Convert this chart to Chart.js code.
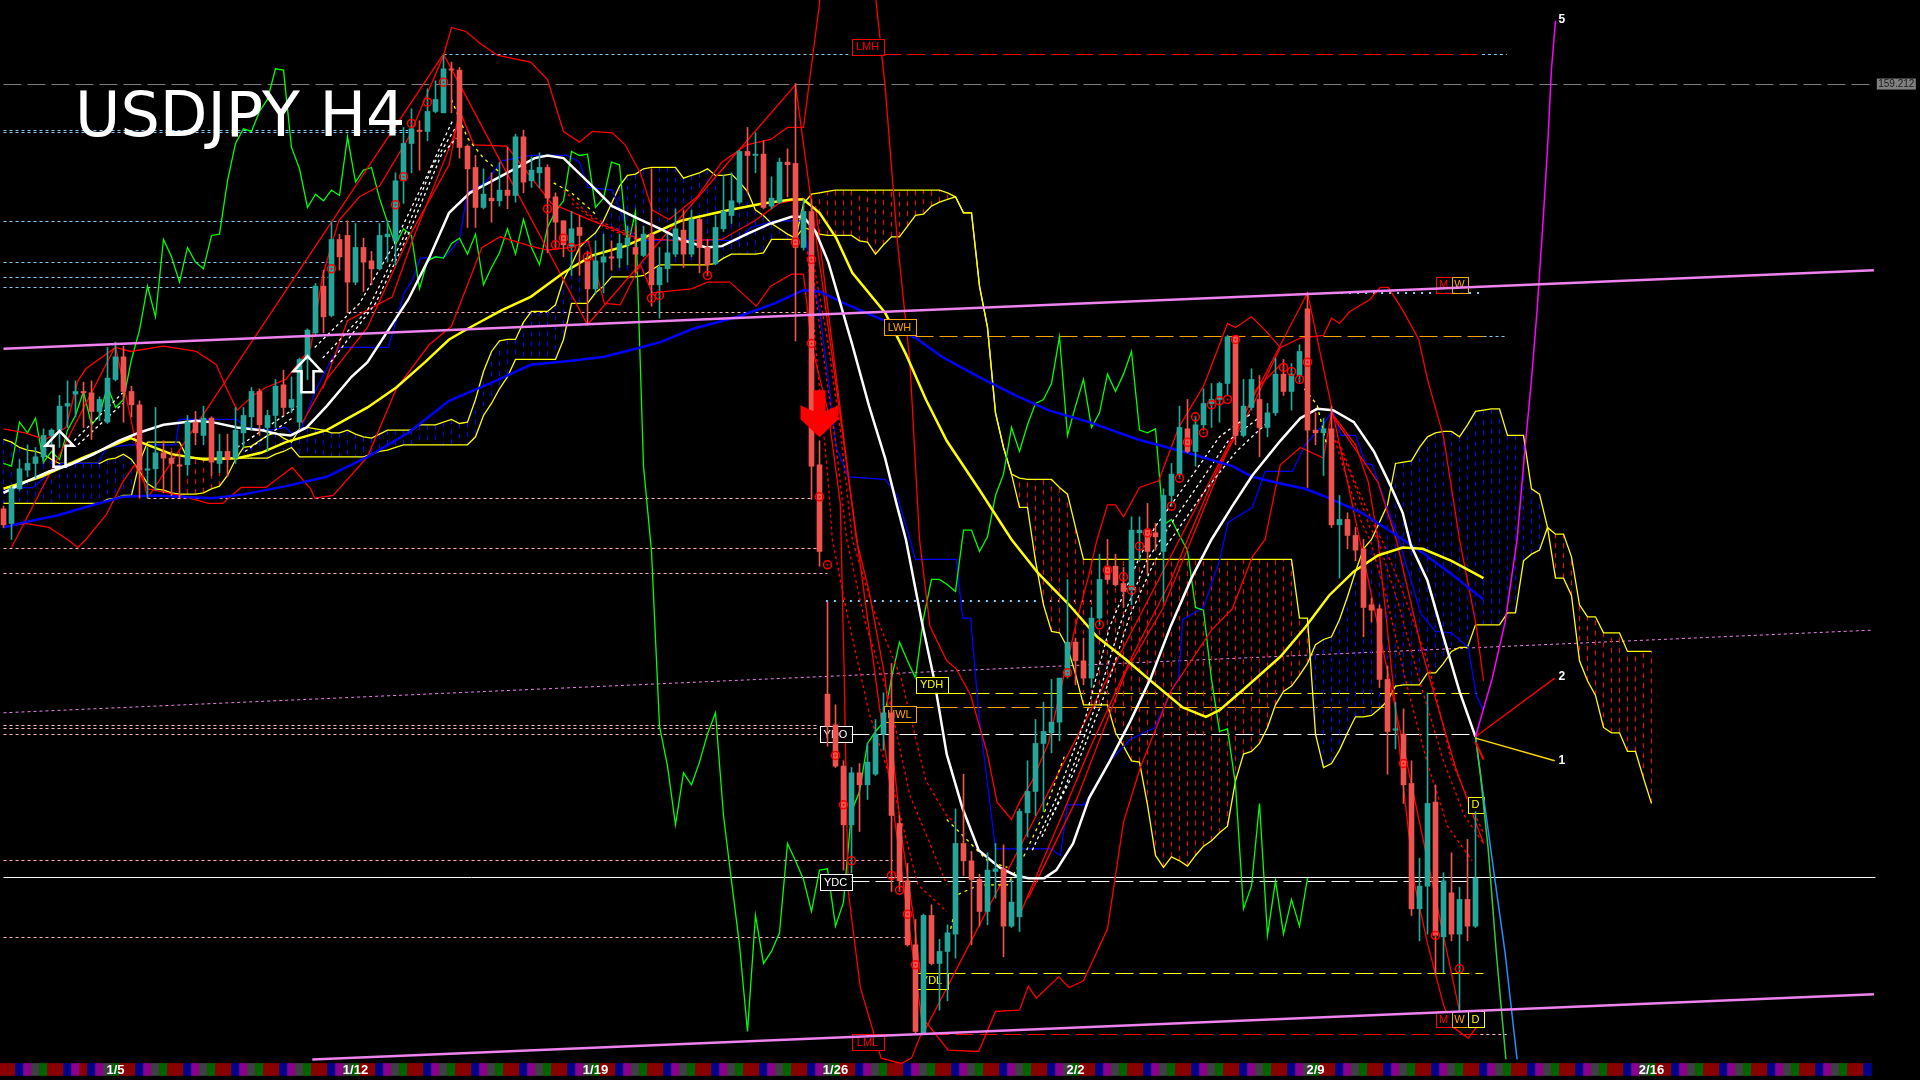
<!DOCTYPE html>
<html>
<head>
<meta charset="utf-8">
<title>USDJPY H4</title>
<script src="https://cdn.jsdelivr.net/npm/chart.js@4/dist/chart.umd.min.js"></script>
<style>
  html, body { margin: 0; padding: 0; background: #000; }
  #wrap { width: 1920px; height: 1080px; }
</style>
</head>
<body>
<div id="wrap"><canvas id="chart" width="1920" height="1080"></canvas></div>
<script>
// candles, one value per H4 bar
const opens = [156.03,155.92,156.18,156.32,156.37,156.42,156.58,156.62,156.80,156.89,156.91,156.90,156.76,156.68,157.00,157.17,156.91,156.81,156.32,156.33,156.45,156.41,156.36,156.36,156.68,156.58,156.71,156.37,156.46,156.41,156.60,156.72,156.91,156.64,156.73,156.96,156.79,156.68,157.15,157.35,157.70,157.48,158.05,158.08,157.73,157.99,157.89,157.83,158.07,158.04,158.49,158.77,158.87,158.86,159.01,159.00,159.33,159.32,158.75,158.59,158.29,158.36,158.34,158.42,158.38,158.82,158.49,158.55,158.59,158.37,158.19,158.00,158.14,157.89,157.68,157.88,157.92,157.91,158.01,157.99,157.93,158.09,157.71,157.83,157.94,158.12,157.94,158.20,157.99,157.87,158.13,158.23,158.33,158.71,158.68,158.69,158.30,158.33,158.63,158.62,157.99,158.26,156.36,154.64,154.41,154.10,153.66,154.05,153.96,154.04,154.34,154.50,153.67,153.24,152.76,152.10,152.98,152.62,152.71,152.84,153.52,153.39,153.25,153.01,153.31,153.33,152.90,152.97,153.75,153.91,154.27,154.35,154.43,154.78,155.03,154.89,154.76,155.21,155.60,155.60,155.47,155.42,155.85,155.87,155.85,155.71,156.13,156.29,156.63,156.46,156.66,156.82,156.85,156.97,157.32,156.58,156.79,156.85,156.64,156.75,157.04,156.91,157.03,157.53,156.62,156.60,156.63,155.91,155.95,155.83,155.73,155.31,155.28,154.75,154.37,154.34,153.97,153.03,153.20,153.83,152.82,153.15,152.84,153.10,152.90];
const highs = [156.05,156.20,156.40,156.51,156.49,156.63,156.63,156.88,156.99,156.99,156.98,156.99,156.87,157.24,157.28,157.25,156.95,156.84,156.49,156.79,156.54,156.46,156.44,156.73,156.76,156.80,156.72,156.59,156.59,156.79,156.79,156.94,156.93,156.77,157.00,157.07,157.02,157.16,157.38,157.72,157.82,158.18,158.09,158.19,158.17,158.06,157.96,158.17,158.19,158.55,158.89,159.03,158.94,159.18,159.24,159.43,159.38,159.34,158.76,158.68,158.58,158.55,158.63,158.74,158.84,158.87,158.67,158.70,158.61,158.40,158.19,158.26,158.23,157.96,158.04,158.09,158.04,158.09,158.15,158.15,158.15,158.58,157.99,158.09,158.28,158.27,158.27,158.21,158.05,158.23,158.53,158.55,158.72,158.89,158.85,158.79,158.52,158.66,158.73,159.22,158.35,158.35,156.54,155.33,154.56,154.14,154.09,154.12,154.27,154.45,154.65,154.87,153.73,153.37,152.95,152.99,153.06,152.80,152.91,153.78,154.04,153.46,153.29,153.45,153.52,153.51,153.25,153.78,154.14,154.45,154.58,154.75,154.76,155.50,155.06,155.06,155.29,155.69,155.80,155.69,155.59,155.97,155.97,156.07,155.92,156.18,156.37,156.80,156.85,156.72,156.93,156.97,156.98,157.33,157.33,157.00,157.08,157.03,156.82,157.16,157.15,157.12,157.26,157.65,156.75,156.71,156.80,156.13,156.00,155.89,155.80,155.36,155.31,154.85,154.58,154.53,154.14,153.41,154.65,153.96,153.30,153.45,153.19,153.55,153.76];
const lows = [155.89,155.80,156.17,156.27,156.26,156.37,156.49,156.49,156.64,156.72,156.64,156.55,156.69,156.67,156.99,156.68,156.72,156.11,156.11,156.17,156.15,156.13,156.11,156.28,156.51,156.51,156.28,156.30,156.27,156.37,156.49,156.62,156.58,156.46,156.64,156.73,156.75,156.64,157.00,157.33,157.35,157.47,157.82,157.50,157.71,157.66,157.71,157.82,157.88,157.86,158.32,158.55,158.57,158.79,159.00,159.00,159.00,158.66,158.14,158.14,158.28,158.18,158.30,158.28,158.33,158.40,158.44,158.44,157.95,157.99,157.92,157.78,157.78,157.41,157.64,157.65,157.82,157.84,157.86,157.80,157.92,157.55,157.46,157.73,157.92,157.84,157.92,157.80,157.78,157.86,158.11,158.17,158.32,158.40,158.55,158.28,158.28,158.32,158.37,157.29,157.97,156.10,155.60,154.25,154.09,153.32,153.30,153.61,153.85,154.03,154.22,153.16,153.16,152.75,152.10,152.09,152.61,152.27,152.34,152.66,153.28,152.76,152.90,152.91,153.11,152.67,152.89,152.86,153.57,153.73,153.76,154.20,154.29,154.76,154.71,154.71,154.69,155.16,155.47,155.45,155.29,155.31,155.64,155.54,155.72,155.33,156.05,156.27,156.45,156.35,156.62,156.64,156.68,156.88,156.51,156.57,156.77,156.42,156.57,156.73,156.88,156.77,156.98,156.19,156.51,156.28,155.89,155.51,155.73,155.64,155.07,155.18,154.69,154.04,154.23,153.82,152.98,152.79,152.84,152.54,152.55,152.79,152.26,152.79,152.89];
const closes = [155.91,156.18,156.33,156.37,156.42,156.58,156.62,156.80,156.82,156.91,156.90,156.76,156.85,157.01,157.17,156.91,156.81,156.32,156.33,156.45,156.41,156.37,156.35,156.68,156.60,156.71,156.38,156.46,156.40,156.62,156.73,156.91,156.66,156.73,156.95,156.79,156.85,157.15,157.37,157.70,157.47,158.05,157.92,157.73,157.99,157.88,157.83,158.08,158.09,158.49,158.77,158.88,158.86,159.01,159.10,159.33,159.32,158.74,158.58,158.29,158.39,158.34,158.42,158.38,158.82,158.48,158.57,158.59,158.36,158.18,158.01,158.13,158.08,157.68,157.89,157.92,157.91,158.02,158.06,157.94,158.09,157.71,157.84,157.95,158.13,157.94,158.20,157.99,157.86,158.14,158.26,158.34,158.71,158.68,158.69,158.29,158.36,158.63,158.61,157.99,158.26,156.35,155.71,154.40,154.10,153.66,154.05,153.96,154.13,154.34,154.50,153.73,153.24,152.76,152.11,152.98,152.62,152.71,152.85,153.52,153.39,153.25,153.01,153.32,153.33,152.90,153.08,153.76,153.91,154.27,154.36,154.43,154.76,155.03,154.89,154.76,155.21,155.50,155.50,155.46,155.41,155.87,155.87,155.71,155.82,156.13,156.29,156.64,156.46,156.66,156.82,156.85,156.97,157.32,156.58,156.80,157.00,156.64,156.75,157.04,156.91,157.04,157.21,156.62,156.60,156.63,155.91,155.95,155.83,155.72,155.29,155.27,154.75,154.36,154.38,153.96,153.03,153.20,153.82,152.83,153.24,152.84,153.10,152.90,153.26];

// lagging line (green), one value per bar from bar 0
const lagging = [156.37,156.35,156.68,156.60,156.71,156.38,156.46,156.40,156.62,156.73,156.91,156.66,156.73,156.95,156.79,156.85,157.15,157.37,157.70,157.47,158.05,157.92,157.73,157.99,157.88,157.83,158.08,158.09,158.49,158.77,158.88,158.86,159.01,159.10,159.33,159.32,158.74,158.58,158.29,158.39,158.34,158.42,158.38,158.82,158.48,158.57,158.59,158.36,158.18,158.01,158.13,158.08,157.68,157.89,157.92,157.91,158.02,158.06,157.94,158.09,157.71,157.84,157.95,158.13,157.94,158.20,157.99,157.86,158.14,158.26,158.34,158.71,158.68,158.69,158.29,158.36,158.63,158.61,157.99,158.26,156.35,155.71,154.40,154.10,153.66,154.05,153.96,154.13,154.34,154.50,153.73,153.24,152.76,152.11,152.98,152.62,152.71,152.85,153.52,153.39,153.25,153.01,153.32,153.33,152.90,153.08,153.76,153.91,154.27,154.36,154.43,154.76,155.03,154.89,154.76,155.21,155.50,155.50,155.46,155.41,155.87,155.87,155.71,155.82,156.13,156.29,156.64,156.46,156.66,156.82,156.85,156.97,157.32,156.58,156.80,157.00,156.64,156.75,157.04,156.91,157.04,157.21,156.62,156.60,156.63,155.91,155.95,155.83,155.72,155.29,155.27,154.75,154.36,154.38,153.96,153.03,153.20,153.82,152.83,153.24,152.84,153.10,152.90,153.26];

// cloud spans, one value per bar including the future part
const spanA = [156.55,156.53,156.49,156.47,156.46,156.44,156.40,156.37,156.37,156.37,156.37,156.37,156.37,156.40,156.41,156.44,156.40,156.31,156.22,156.18,156.17,156.15,156.14,156.14,156.14,156.15,156.18,156.20,156.28,156.40,156.49,156.50,156.54,156.58,156.60,156.56,156.53,156.63,156.64,156.63,156.62,156.60,156.60,156.62,156.59,156.57,156.56,156.59,156.62,156.62,156.62,156.62,156.66,156.66,156.66,156.68,156.70,156.67,156.68,156.85,157.06,157.21,157.29,157.30,157.30,157.43,157.51,157.51,157.51,157.56,157.75,157.86,157.99,158.05,158.10,158.19,158.32,158.45,158.53,158.54,158.58,158.59,158.59,158.59,158.59,158.51,158.53,158.55,158.58,158.53,158.53,158.54,158.48,158.41,158.27,158.23,158.17,158.13,158.09,158.06,158.14,158.12,158.09,158.08,158.08,158.08,158.08,158.04,158.03,157.94,158.01,158.07,158.07,158.15,158.23,158.24,158.30,158.33,158.35,158.37,158.25,158.25,157.70,157.39,156.75,156.49,156.29,156.04,156.04,155.64,155.31,155.11,155.10,154.99,154.79,154.56,154.56,154.56,154.56,154.35,154.25,154.14,154.13,153.81,153.43,153.34,153.42,153.39,153.35,153.43,153.50,153.54,153.60,153.65,153.99,154.19,154.21,154.27,154.39,154.56,154.66,154.70,154.78,154.87,155.01,155.05,155.07,155.20,155.37,155.56,155.73,155.80,155.93,156.06,156.37,156.38,156.39,156.49,156.57,156.60,156.61,156.61,156.57,156.66,156.76,156.77,156.78,156.78,156.58,156.58,156.58,156.18,156.14,155.89,155.51,155.51,155.38,154.89,154.74,154.63,154.39,154.35,154.35,154.21,154.21,154.01,153.82];
const spanB = [156.07,156.07,156.07,156.07,156.07,156.07,156.07,156.07,156.07,156.07,156.07,156.07,156.07,156.10,156.11,156.13,156.13,156.38,156.53,156.53,156.53,156.53,156.53,156.41,156.41,156.41,156.41,156.41,156.41,156.41,156.41,156.41,156.41,156.41,156.44,156.46,156.49,156.42,156.42,156.42,156.42,156.42,156.42,156.42,156.42,156.42,156.44,156.46,156.47,156.49,156.51,156.51,156.51,156.51,156.51,156.51,156.51,156.51,156.51,156.57,156.73,156.82,156.93,157.02,157.15,157.15,157.15,157.15,157.15,157.15,157.30,157.57,157.57,157.57,157.65,157.70,157.77,157.77,157.77,157.77,157.78,157.82,157.86,157.86,157.86,157.86,157.86,157.86,157.86,157.87,157.91,157.94,157.94,157.94,157.94,157.95,158.05,158.05,158.05,158.05,158.32,158.39,158.40,158.41,158.42,158.42,158.42,158.42,158.42,158.42,158.42,158.42,158.42,158.42,158.42,158.42,158.42,158.42,158.40,158.37,158.25,158.25,157.70,157.39,156.75,156.49,156.29,156.26,156.25,156.25,156.25,156.25,156.19,156.14,155.89,155.65,155.65,155.65,155.65,155.65,155.65,155.65,155.65,155.65,155.65,155.65,155.65,155.65,155.65,155.65,155.65,155.65,155.65,155.65,155.65,155.65,155.65,155.65,155.65,155.65,155.65,155.65,155.21,155.21,154.34,154.09,154.12,154.22,154.35,154.47,154.47,154.48,154.53,154.59,154.70,154.71,154.71,154.71,154.80,154.80,154.87,154.96,154.99,154.99,155.16,155.16,155.16,155.16,155.25,155.25,155.64,155.69,155.72,155.89,155.84,155.84,155.67,155.31,155.22,155.22,155.10,155.10,155.10,154.96,154.96,154.96,154.96];

// moving averages: bar position and price of the points read
const maWhiteX = [0,2.7,5.7,8.3,11.3,14.4,16.9,20,24.1,26.1,29.2,32.2,34.3,35.9,37.9,40.4,43.5,45.5,48.1,50.6,53.2,55.7,58.3,60.8,63.9,66.4,68,70,73.1,76.1,79.2,82.1,84.7,87.8,89.8,92.9,95.9,98.5,100,101.5,103.1,104.6,106.1,108.2,110.2,111.7,112.8,114.8,116.3,117.9,119.9,121.9,124.5,126.5,128.1,130.1,131.6,133.7,135.7,138.3,140.8,143.4,145.9,148.5,151,153.6,156.1,159.6,162.1,164.2,166.2,168.8,171.3,173.4,174.9,175.9,178,180,182,184];
const maWhiteY = [156.15,156.23,156.31,156.36,156.44,156.54,156.60,156.66,156.69,156.68,156.64,156.62,156.59,156.58,156.64,156.80,157.02,157.13,157.37,157.60,157.91,158.25,158.40,158.48,158.58,158.66,158.68,158.66,158.48,158.30,158.21,158.13,158.05,157.99,158.00,158.09,158.17,158.22,158.22,158.11,157.88,157.57,157.26,156.80,156.41,156.05,155.80,155.18,154.76,154.19,153.78,153.47,153.34,153.28,153.26,153.26,153.32,153.52,153.86,154.14,154.43,154.76,155.15,155.51,155.80,156.05,156.28,156.54,156.71,156.78,156.77,156.68,156.46,156.20,156.00,155.76,155.49,155.07,154.66,154.32];
const maYellowX = [0,4.7,9.8,15.9,18,21,25.1,29.2,32.2,35.3,40.4,45.5,49.1,52.7,55.7,58.3,62.3,65.9,70,73.6,77.7,79.6,84.7,89.8,94.9,98.5,100,102,104.1,106.1,110.2,112.8,115.3,117.9,121.9,126,129.3,133.2,136.7,140.3,143.4,147.4,150.3,152,155.1,159.6,162.7,165.7,168.8,171.8,174.9,177.4,181,185];
const maYellowY = [156.18,156.27,156.41,156.56,156.51,156.44,156.40,156.41,156.45,156.53,156.62,156.79,156.94,157.13,157.30,157.39,157.52,157.62,157.80,157.93,158.00,158.05,158.19,158.26,158.32,158.35,158.35,158.25,158.06,157.80,157.50,157.19,156.85,156.54,156.18,155.80,155.55,155.31,155.07,154.90,154.74,154.54,154.47,154.52,154.68,154.92,155.14,155.38,155.56,155.68,155.74,155.73,155.64,155.51];
const maBlueX = [0,2.7,6.7,11.3,14.9,19,26.1,30.2,35.3,40.4,45.5,50.6,55.7,60.8,65.9,71,75.1,79.6,82.1,86.2,91.8,96.4,100,102,105.1,110.2,114.3,117.3,121.9,126.5,130.6,135.7,141.8,148,153.6,156.1,159.6,162.7,165.7,169.8,172.9,174.9,177.4,181,185];
const maBlueY = [155.89,155.93,155.98,156.06,156.12,156.13,156.11,156.14,156.20,156.27,156.42,156.60,156.84,156.97,157.11,157.14,157.17,157.24,157.28,157.38,157.47,157.57,157.67,157.66,157.57,157.44,157.30,157.17,157.02,156.88,156.77,156.68,156.55,156.45,156.35,156.27,156.22,156.18,156.11,156.00,155.88,155.80,155.70,155.54,155.35];

// thin stepped blue line
const stepBlueX = [0,3.7,7.2,11.8,12.9,15.9,21.5,22,29.2,30.2,33.3,35.3,36.3,37.3,38.9,40.4,41.9,48.1,50.1,51.1,52.1,55.2,57,58,60.3,62.3,65.9,70.5,72,73.1,76.1,77.7,79.2,85.7,91.8,93.4,96.4,100,101,102,103.1,104.1,105.6,110.2,111.7,113.3,114,119.1,119.9,120.9,121.9,124,130.9,132.1,133,135.1,138.3,140.8,143.9,145.9,146.9,147.4,150,152,152.6,153.1,156.1,157.7,159.6,161.1,162.7,164.7,166.2,167.2,169,170.3,171.1,172.9,174.4,177.2,179,181,183.1,184.1,185];
const stepBlueY = [156.18,156.19,156.37,156.37,156.49,156.51,156.51,156.70,156.70,156.64,156.62,156.64,156.58,156.64,156.90,157.08,157.24,157.24,157.65,157.74,157.91,157.92,158.05,158.40,158.48,158.64,158.68,158.68,158.63,158.44,158.42,158.17,158.04,158.05,158.04,158.14,158.19,158.19,157.78,157.52,157.00,156.49,156.27,156.25,156.13,155.80,155.65,155.65,155.21,155.21,154.50,153.48,153.48,153.43,153.81,153.81,154.14,154.30,154.39,154.66,154.76,155.20,155.29,155.64,155.80,155.93,156.04,156.31,156.31,156.31,156.51,156.64,156.77,156.58,156.58,156.37,156.36,156.05,155.80,155.24,155.11,155.10,154.99,154.63,154.52];

// swing line
const swingX = [1,14,18,55,73,99,115,163,182];
const swingY = [155.74,157.25,156.11,159.44,157.41,159.21,152.10,157.65,152.26];

// outer bands
const bandUpX = [0,2.7,5.2,7.8,9.3,10.3,14,15.9,20,24.1,26.6,27.9,29.2,31.2,32.8,35.3,38.4,39.9,41.9,44.5,47,50.6,55,56,57.8,59.8,61.8,65.9,68,70,72,73.6,76.1,77.7,79.6,81.1,83.2,86.7,89.8,92.9,95.9,98,100,102,103,108.2,109.1,110.2,111.7,113.3,114.5,115.8,117.9,119.1,120.9,123,124.2,126,127,128.6,130.6,132.6,134.2,135.7,136.7,138,139,140,142,144.4,146.9,150,152,153,154,156,157.7,159.6,162.1,165,166,167,168.3,170.8,172.1,173.1,174.9,176.9,178,180,182,184.1,185];
const bandUpY = [156.63,156.60,156.55,156.64,156.99,157.08,157.24,157.21,157.25,157.21,157.11,156.93,156.77,156.88,156.94,157.00,157.24,157.78,158.19,158.37,158.45,158.81,159.43,159.64,159.61,159.51,159.43,159.38,159.25,158.86,158.78,158.86,158.85,158.76,158.55,158.27,158.20,158.37,158.63,158.76,158.80,158.89,158.89,159.82,160.62,160.62,159.82,159.20,158.06,157.13,155.80,155.15,154.89,154.83,154.63,154.19,153.83,153.70,153.83,153.99,154.27,154.79,155.20,155.54,155.80,156.06,156.06,155.97,156.19,156.24,156.64,156.95,157.26,157.42,157.39,157.47,157.37,157.24,157.31,157.33,157.46,157.42,157.51,157.60,157.69,157.69,157.52,157.30,157.00,156.57,155.80,155.15,154.74];
const bandLowX = [0,2.7,5.7,8,9.3,10.3,12.9,14.9,16.4,18,22,25.6,27.4,29.7,32.8,36.1,38.4,38.9,41.2,45.5,49.1,53.2,56,59.8,62.1,65.9,68,71,73.1,75.1,77.1,79.6,81.1,86,88,90.8,94.1,95.9,98.5,100,101,103.1,104.6,105.1,105.4,105.6,107.1,109.7,112.2,113.5,115.3,118.1,121.9,124,127,128.1,129.1,131.9,133.2,135,138,140,142.1,145.9,151,153.6,156.1,157.7,159.6,162.1,165,166,169,170.6,171.8,173.4,174.9,176.4,178,180,181,183.1,184.6];
const bandLowY = [155.89,155.92,155.89,155.80,155.74,155.80,155.99,156.23,156.36,156.18,156.13,156.07,156.07,156.19,156.19,156.34,156.18,156.11,156.13,156.42,156.93,157.26,157.40,157.99,158.07,158.00,157.97,157.99,158.04,157.57,157.56,157.86,157.65,157.68,157.73,157.73,157.55,157.70,157.79,157.79,157.26,156.75,156.07,154.76,153.72,153.16,152.44,151.91,151.87,151.91,152.18,151.97,151.96,152.26,152.27,152.45,152.36,152.52,152.44,152.49,152.88,153.68,154.09,154.66,155.12,155.28,155.67,155.80,156.36,156.49,156.41,156.75,156.51,156.23,155.80,154.89,153.99,153.21,152.77,152.31,152.15,152.06,152.18];

// inner red lines
const innerAX = [37.3,40.4,45.5,50.6,55.7,57,58.8,62.9,68.5,73.6,79.2,84.7,89.8,93.9,96.9,100];
const innerAY = [156.67,157.00,157.39,158.06,158.61,159.02,158.76,158.75,158.32,158.19,158.06,158.04,158.05,158.19,158.32,158.36];
const innerBX = [39.9,43,48.6,51.1,56.2,57];
const innerBY = [156.93,157.44,157.62,158.04,158.81,158.97];
const innerCX = [127,132.1,135.7,140.8,145.9,148,152,156.1,159.6];
const innerCY = [152.98,153.70,154.22,154.89,155.49,155.80,156.36,156.80,157.24];
const innerDX = [128.1,134.2,140.3,144.9,148.5,152.6,156.6,159.6];
const innerDY = [153.11,153.86,154.81,155.28,155.80,156.41,156.93,157.11];
const innerEX = [101.5,103.6,106.6,108.2,110.2,112.2,113.8,114.8];
const innerEY = [158.30,157.26,155.80,155.41,154.76,153.60,152.95,152.44];
const innerFX = [166.2,171.8,174.1,177.4,181.5,185];
const innerFY = [156.72,156.23,155.80,154.94,154.09,153.52];

// white dashed fans (up moves)
const fanUp1X = [38.9,44.5,48.6,52.7,56.2];
const fanUp1Y = [157.24,157.57,157.99,158.50,158.95];
const fanUp2X = [39.9,45.5,49.8,53.7,56.5];
const fanUp2Y = [157.16,157.52,158.04,158.61,158.89];
const fanUp3X = [40.9,46.5,50.6,54.7,56.6];
const fanUp3Y = [157.13,157.57,158.09,158.68,158.81];
const fanUp4X = [8.3,14.9];
const fanUp4Y = [156.51,156.90];
const fanUp5X = [9.3,14.9];
const fanUp5Y = [156.51,156.82];
const fanUp6X = [29.2,36.8];
const fanUp6Y = [156.49,156.80];
const fanUp7X = [30.2,36.3];
const fanUp7Y = [156.46,156.72];
const fanUp8X = [128.6,131.6,135.2,138.3,141.8,143.9,148,152,156.1];
const fanUp8Y = [153.47,153.86,154.45,155.15,155.64,155.89,156.23,156.57,156.75];
const fanUp9X = [129.8,132.7,136.2,139.8,142.9,145.4,149,153.1,157.1];
const fanUp9Y = [153.57,153.94,154.50,155.20,155.64,155.87,156.18,156.54,156.72];
const fanUp10X = [131.1,133.7,137.2,140.8,143.9,146.4,150,154.1,158.2];
const fanUp10Y = [153.73,154.04,154.56,155.23,155.64,155.84,156.15,156.46,156.69];

// red dashed fans (down moves)
const fanDown1X = [100.5,101.5,103.1,103.6,105.6,108.2,111.2,114.3,117.9];
const fanDown1Y = [157.96,157.26,156.23,155.80,155.20,154.50,153.94,153.21,153.01];
const fanDown2X = [100.8,102.3,104.1,105.4,107.7,110.7,113.3,115.8,117.9];
const fanDown2Y = [157.99,157.26,156.49,155.80,155.18,154.61,153.88,153.52,153.21];
const fanDown3X = [101,103.1,104.6,106.1,108.7,112.2,115.3,117.9,119.4];
const fanDown3Y = [157.96,157.26,156.62,155.80,155.28,154.76,153.99,153.73,153.65];
const fanDown4X = [166.2,167.8,169.8,170.8,172.9,175.4,178,180.5,183.6];
const fanDown4Y = [156.59,156.28,155.92,155.80,155.36,154.71,154.12,153.65,153.39];
const fanDown5X = [166.7,168.8,170.8,171.8,174.4,176.9,180,182.6,185];
const fanDown5Y = [156.54,156.23,155.89,155.80,155.31,154.76,154.14,153.73,153.52];
const fanDown6X = [167.2,169.3,171.8,172.3,174.9,178,181,183.6,185];
const fanDown6Y = [156.49,156.18,155.84,155.80,155.41,154.89,154.14,153.78,153.60];
const fanDown7X = [70,73.1,76.1,79.2];
const fanDown7Y = [158.42,158.24,158.14,158.09];
const fanDown8X = [71,75.1,79.6];
const fanDown8Y = [158.32,158.14,158.04];

// yellow dashed lines at the turns
const turn1X = [56,58,60,62.1];
const turn1Y = [159.10,158.81,158.66,158.55];
const turn2X = [68,71,74];
const turn2Y = [158.50,158.40,158.24];
const turn3X = [117.9,120.4,123,125.5];
const turn3Y = [153.70,153.55,153.39,153.34];
const turn4X = [118.4,119.4,122,125.5,127.5,130.1,132.7];
const turn4Y = [152.88,153.14,153.21,153.21,153.42,153.75,154.19];
const turn5X = [162.6,164.2,165.4];
const turn5Y = [156.93,156.81,156.51];

// projection lines from the last bar
const proj5X = [184,186.1,187.7,189.2,190.2,191,191.7,192.5,193,193.5,194];
const proj5Y = [154.32,154.76,155.18,155.80,156.49,157.00,157.52,158.24,158.73,159.33,159.69];
const proj2X = [184,193.9];
const proj2Y = [154.32,154.76];
const proj1X = [184,193.9];
const proj1Y = [154.31,154.14];
const projGreenX = [184,184.6,185.6,186.6,187.8];
const projGreenY = [154.32,154.04,153.47,152.70,151.90];
const projBlueX = [184,185.1,186.4,187.7,189.2];
const projBlueY = [154.32,153.83,153.26,152.70,151.90];
const projRedX = [184,185];
const projRedY = [154.28,154.15];

// channel lines
const channelUpX = [0,233.8];
const channelUpY = [157.23,157.82];
const channelLowX = [38.6,233.8];
const channelLowY = [151.90,152.39];
const channelMidX = [0,233.6];
const channelMidY = [154.50,155.12];

// horizontal levels: price, first bar, last bar
const blueDotPrices = [158.8673,158.8523,158.1848,157.8773,157.7648,157.6898,159.4373,159.4373,157.3223];
const blueDotFrom = [0,0,0,0,0,0,55,184.8,185];
const blueDotTo = [50.6,50.6,48.6,40.6,40.6,39.1,105.6,187.9,187.9];
const blueWidePrices = [157.6485,155.3385];
const blueWideFrom = [167.2,102.8];
const blueWideTo = [184.8,136.2];
const pinkDotPrices = [157.5023,156.1073,155.7323,155.5448,154.4048,154.3823,154.3373,153.3923,152.8148,152.0873];
const pinkDotFrom = [43,18,0,0,0,0,0,0,0,184.6];
const pinkDotTo = [101,101,102,103,102,102,102,111.2,112.8,187.9];
const closeLevel = 153.2648, closeFrom = 0, closeTo = 234;
const lastPrice = 159.212, lastFrom = 0, lastTo = 233.4;
const ydoPrice = 154.3373, ydoFrom = 106, ydoTo = 184;
const ydcPrice = 153.2348, ydcFrom = 106, ydcTo = 183;
const ydhPrice = 154.6448, ydhFrom = 118, ydhTo = 184.2;
const ydlPrice = 152.5448, ydlFrom = 118, ydlTo = 185;
const hwlPrice = 154.5398, hwlFrom = 114, hwlTo = 172.6;
const lwhPrice = 157.3223, lwhFrom = 114, lwhTo = 185;
const lmhPrice = 159.4373, lmhFrom = 110, lmhTo = 184.3;
const lmlPrice = 152.0873, lmlFrom = 110, lmlTo = 184.6;

// small circled marks
const ringX = [51,53,50,49,41,68,69,73,71,70,55,88,81,82,99,101,101,102,103,104,105,106,111,112,113,114,133,137,138,140,141,142,143,146,147,148,149,150,151,152,153,154,160,161,162,163,179,182,175];
const ringY = [158.92,159.08,158.52,158.31,157.83,158.28,158.01,157.92,157.99,158.06,159.23,157.78,157.61,157.63,158.03,157.27,157.90,156.12,155.61,154.18,153.81,153.39,153.28,153.17,152.99,152.61,154.80,155.16,155.57,155.52,155.42,155.75,155.85,156.05,156.26,156.53,156.72,156.60,156.81,156.84,156.85,157.30,157.09,157.06,157.00,157.13,152.83,152.58,154.12];

// signal arrows
const upArrowX = [7,38];
const upArrowY = [156.48,157.04];
const downArrowX = [102];
const downArrowY = [156.92];

// level tags: wide and narrow boxes
const tagNames = ['LMH','LWH','YDH','YDO','YDC','HWL','YDL','LML'];
const tagX = [108,112,116,104,104,112,116,108];
const tagY = [159.497,157.39,154.71,154.34,153.23,154.49,152.49,152.03];
const tagColors = ['#ff0000','#ffa500','#ffff00','#ffffff','#ffffff','#ffa500','#ffff00','#ff0000'];
const miniNames = ['M','W','D','M','W','D'];
const miniX = [180,182,184,180,182,184];
const miniY = [157.71,157.71,153.81,152.20,152.20,152.20];
const miniColors = ['#ff0000','#ffa500','#ffff00','#ff0000','#ffa500','#ffff00'];

// projection numbers
const waveNames = ['5','2','1'];
const waveX = [194.8,194.8,194.8];
const waveY = [159.70,154.77,154.14];

// time strip
const dateLabels = ['1/5','1/12','1/19','1/26','2/2','2/9','2/16'];
const dateX = [14,44,74,104,134,164,206];
const stripBars = 234;
const stripHigh = 151.87, stripLow = 151.78;

const TEAL = '#26a69a', SALMON = '#ef5350', PINK = '#ee82ee';
const SKY = '#87cefa', LIGHTPINK = '#ffb6c1';
const THIN = 1.3;

function xy(xs, ys) {
  return xs.map((x, i) => ({ x: x, y: ys[i] }));
}

function line(label, xs, ys, color, width, dash) {
  return {
    type: 'line', label: label, data: xy(xs, ys),
    borderColor: color, borderWidth: width, borderDash: dash || [],
    pointRadius: 0, tension: 0, fill: false, spanGaps: false
  };
}

function level(label, price, from, to, color, width, dash) {
  return line(label, [from, to], [price, price], color, width, dash);
}

function levels(label, prices, from, to, color, width, dash) {
  return prices.map((p, i) => level(label + i, p, from[i], to[i], color, width, dash));
}

// one vertical dashed stroke per bar between the two spans
function hatch(label, color, test) {
  const pts = [];
  spanA.forEach((a, i) => {
    if (test(a, spanB[i])) {
      pts.push({ x: i, y: a }, { x: i, y: spanB[i] }, { x: i, y: NaN });
    }
  });
  return { type: 'line', label: label, data: pts, borderColor: color, borderWidth: 1, borderDash: [5, 5], pointRadius: 0, tension: 0, fill: false, spanGaps: false };
}

function bars(label, data, colors, thickness) {
  return { type: 'bar', label: label, data: data, backgroundColor: colors, borderWidth: 0, barThickness: thickness, grouped: false };
}

const candleColors = opens.map((o, i) => closes[i] >= o ? TEAL : SALMON);
const spanX = spanA.map((_, i) => i);
const laggingX = lagging.map((_, i) => i);

// session colours of the time strip, two red bars then blue, purple, grey, green
const stripCycle = ['#8b0000', '#8b0000', '#00008b', '#8a008a', '#404040', '#006400'];
const stripStart = ['#8b0000', '#8b0000', '#00008b', '#8a008a', '#404040', '#006400', '#8b0000', '#8b0000', '#00008b', '#8a008a', '#8b0000', '#00008b', '#8a008a', '#404040', '#006400'];
const stripData = [], stripColors = [];
for (let i = 0; i < stripBars; i++) {
  stripData.push({ x: i, y: [stripLow, stripHigh] });
  stripColors.push(i < stripStart.length ? stripStart[i] : stripCycle[(i - stripStart.length) % 6]);
}

// first in the list is drawn on top
const datasets = [
  line('channel up', channelUpX, channelUpY, PINK, 2.5),
  line('channel low', channelLowX, channelLowY, PINK, 2.5),
  { type: 'scatter', label: 'rings', data: xy(ringX, ringY), borderColor: '#ff0000', backgroundColor: 'rgba(0,0,0,0)', borderWidth: 1.5, pointRadius: 4 },
  { type: 'scatter', label: 'ring dots', data: xy(ringX, ringY), borderColor: '#ff0000', backgroundColor: '#ff0000', borderWidth: 0, pointRadius: 1 },
  line('wave 5', proj5X, proj5Y, '#ff00ff', 1.5),
  line('wave 2', proj2X, proj2Y, '#ff0000', THIN),
  line('wave 1', proj1X, proj1Y, '#ffd700', 1.5),
  line('proj red', projRedX, projRedY, '#ff0000', 2),
  line('proj green', projGreenX, projGreenY, '#32cd32', 1.5),
  line('proj blue', projBlueX, projBlueY, '#1e90ff', 1.5),
  bars('bodies', opens.map((o, i) => ({ x: i, y: [o, closes[i]] })), candleColors, 5),
  bars('wicks', lows.map((l, i) => ({ x: i, y: [l, highs[i]] })), candleColors, 1),
  line('ma white', maWhiteX, maWhiteY, '#ffffff', 2.5),
  line('ma yellow', maYellowX, maYellowY, '#ffff00', 2.5),
  line('ma blue', maBlueX, maBlueY, '#0000ff', 2.5),
  line('fan up 1', fanUp1X, fanUp1Y, '#ffffff', THIN, [3, 3]),
  line('fan up 2', fanUp2X, fanUp2Y, '#ffffff', THIN, [3, 3]),
  line('fan up 3', fanUp3X, fanUp3Y, '#ffffff', THIN, [3, 3]),
  line('fan up 4', fanUp4X, fanUp4Y, '#ffffff', THIN, [3, 3]),
  line('fan up 5', fanUp5X, fanUp5Y, '#ffffff', THIN, [3, 3]),
  line('fan up 6', fanUp6X, fanUp6Y, '#ffffff', THIN, [3, 3]),
  line('fan up 7', fanUp7X, fanUp7Y, '#ffffff', THIN, [3, 3]),
  line('fan up 8', fanUp8X, fanUp8Y, '#ffffff', THIN, [3, 3]),
  line('fan up 9', fanUp9X, fanUp9Y, '#ffffff', THIN, [3, 3]),
  line('fan up 10', fanUp10X, fanUp10Y, '#ffffff', THIN, [3, 3]),
  line('fan down 1', fanDown1X, fanDown1Y, '#ff0000', THIN, [3, 3]),
  line('fan down 2', fanDown2X, fanDown2Y, '#ff0000', THIN, [3, 3]),
  line('fan down 3', fanDown3X, fanDown3Y, '#ff0000', THIN, [3, 3]),
  line('fan down 4', fanDown4X, fanDown4Y, '#ff0000', THIN, [3, 3]),
  line('fan down 5', fanDown5X, fanDown5Y, '#ff0000', THIN, [3, 3]),
  line('fan down 6', fanDown6X, fanDown6Y, '#ff0000', THIN, [3, 3]),
  line('fan down 7', fanDown7X, fanDown7Y, '#ff0000', THIN, [3, 3]),
  line('fan down 8', fanDown8X, fanDown8Y, '#ff0000', THIN, [3, 3]),
  line('turn 1', turn1X, turn1Y, '#ffff00', THIN, [3, 4]),
  line('turn 2', turn2X, turn2Y, '#ffff00', THIN, [3, 4]),
  line('turn 3', turn3X, turn3Y, '#ffff00', THIN, [3, 4]),
  line('turn 4', turn4X, turn4Y, '#ffff00', THIN, [3, 4]),
  line('turn 5', turn5X, turn5Y, '#ffff00', THIN, [3, 4]),
  line('swing', swingX, swingY, '#ff0000', THIN),
  line('band up', bandUpX, bandUpY, '#ff0000', THIN),
  line('band low', bandLowX, bandLowY, '#ff0000', THIN),
  line('inner a', innerAX, innerAY, '#ff0000', THIN),
  line('inner b', innerBX, innerBY, '#ff0000', THIN),
  line('inner c', innerCX, innerCY, '#ff0000', THIN),
  line('inner d', innerDX, innerDY, '#ff0000', THIN),
  line('inner e', innerEX, innerEY, '#ff0000', THIN),
  line('inner f', innerFX, innerFY, '#ff0000', THIN),
  line('lagging', laggingX, lagging, '#00ff00', THIN),
  line('step blue', stepBlueX, stepBlueY, '#0000ff', THIN),
  line('span a', spanX, spanA, '#ffff00', THIN),
  line('span b', spanX, spanB, '#ffff00', THIN),
  hatch('cloud up', '#0000ff', (a, b) => a > b),
  hatch('cloud down', '#ff0000', (a, b) => a < b),
  level('YDO', ydoPrice, ydoFrom, ydoTo, '#ffffff', 1, [18, 6]),
  level('YDC', ydcPrice, ydcFrom, ydcTo, '#ffffff', 1, [18, 6]),
  level('YDH', ydhPrice, ydhFrom, ydhTo, '#ffff00', 1, [18, 6]),
  level('YDL', ydlPrice, ydlFrom, ydlTo, '#ffff00', 1, [18, 6]),
  level('HWL', hwlPrice, hwlFrom, hwlTo, '#ffa500', 1, [18, 6]),
  level('LWH', lwhPrice, lwhFrom, lwhTo, '#ffa500', 1, [18, 6]),
  level('LMH', lmhPrice, lmhFrom, lmhTo, '#ff0000', 1, [18, 6]),
  level('LML', lmlPrice, lmlFrom, lmlTo, '#ff0000', 1, [18, 6]),
  level('close', closeLevel, closeFrom, closeTo, '#ffffff', 1),
  level('last', lastPrice, lastFrom, lastTo, '#808080', 1, [18, 6]),
  line('channel mid', channelMidX, channelMidY, PINK, 1, [3, 3]),
  ...levels('pink', pinkDotPrices, pinkDotFrom, pinkDotTo, LIGHTPINK, 1, [3, 3]),
  ...levels('sky', blueDotPrices, blueDotFrom, blueDotTo, SKY, 1, [3, 3]),
  ...levels('sky wide', blueWidePrices, blueWideFrom, blueWideTo, SKY, 2, [2, 6]),
  bars('strip', stripData, stripColors, 8)
];

const wicksIndex = datasets.findIndex(d => d.label === 'wicks');

function drawTag(chart, text, v, p, color, w) {
  const ctx = chart.ctx;
  const cx = chart.scales.x.getPixelForValue(v), cy = chart.scales.y.getPixelForValue(p);
  ctx.fillStyle = '#000000';
  ctx.fillRect(cx - w / 2, cy - 8, w, 16);
  ctx.strokeStyle = color;
  ctx.lineWidth = 1;
  ctx.strokeRect(Math.round(cx - w / 2) + 0.5, Math.round(cy - 8) + 0.5, w, 16);
  ctx.fillStyle = color;
  ctx.font = '11px "Liberation Sans"';
  ctx.textAlign = 'center';
  ctx.textBaseline = 'middle';
  ctx.fillText(text, cx, cy + 0.5);
}

const overlay = {
  id: 'overlay',
  // tags sit under the candles but over the indicator lines
  beforeDatasetDraw(chart, args) {
    if (args.index !== wicksIndex) return;
    const ctx = chart.ctx;
    ctx.save();
    tagNames.forEach((t, i) => drawTag(chart, t, tagX[i], tagY[i], tagColors[i], 32));
    miniNames.forEach((t, i) => drawTag(chart, t, miniX[i], miniY[i], miniColors[i], 16));
    ctx.restore();
  },
  afterDatasetsDraw(chart) {
    const ctx = chart.ctx;
    const sx = chart.scales.x, sy = chart.scales.y;
    ctx.save();

    // arrows
    ctx.strokeStyle = '#ffffff';
    ctx.lineWidth = 2.5;
    upArrowX.forEach((v, i) => {
      const cx = sx.getPixelForValue(v), cy = sy.getPixelForValue(upArrowY[i]);
      ctx.beginPath();
      [[0, -18], [14, -3], [6, -3], [6, 18], [-6, 18], [-6, -3], [-14, -3]].forEach((p, j) => {
        if (j === 0) ctx.moveTo(cx + p[0], cy + p[1]);
        else ctx.lineTo(cx + p[0], cy + p[1]);
      });
      ctx.closePath();
      ctx.stroke();
    });
    ctx.fillStyle = '#ff0000';
    downArrowX.forEach((v, i) => {
      const cx = sx.getPixelForValue(v), top = sy.getPixelForValue(downArrowY[i]);
      ctx.beginPath();
      [[-6, 0], [6, 0], [6, 21], [19, 15], [19, 29], [0, 47], [-19, 29], [-19, 15], [-6, 21]].forEach((p, j) => {
        if (j === 0) ctx.moveTo(cx + p[0], top + p[1]);
        else ctx.lineTo(cx + p[0], top + p[1]);
      });
      ctx.closePath();
      ctx.fill();
    });

    ctx.textAlign = 'center';
    ctx.textBaseline = 'middle';

    // last price box
    const px = sx.getPixelForValue(236.6), py = sy.getPixelForValue(lastPrice);
    ctx.fillStyle = '#808080';
    ctx.fillRect(px - 19.5, py - 6, 39, 11);
    ctx.fillStyle = '#1a1a1a';
    ctx.font = '10px "Liberation Sans"';
    ctx.fillText('159.212', px, py);

    // projection numbers
    ctx.fillStyle = '#ffffff';
    ctx.font = 'bold 12px "Liberation Sans"';
    waveNames.forEach((t, i) => ctx.fillText(t, sx.getPixelForValue(waveX[i]), sy.getPixelForValue(waveY[i])));

    // dates on the strip
    ctx.font = 'bold 13px "Liberation Sans"';
    const stripMid = sy.getPixelForValue((stripHigh + stripLow) / 2);
    dateLabels.forEach((t, i) => ctx.fillText(t, sx.getPixelForValue(dateX[i]), stripMid + 1));

    // title
    ctx.font = '62px "DejaVu Sans"';
    ctx.textAlign = 'left';
    ctx.textBaseline = 'alphabetic';
    ctx.fillText('USDJPY H4', sx.getPixelForValue(8.95), sy.getPixelForValue(158.826));

    ctx.restore();
  }
};

new Chart(document.getElementById('chart'), {
  type: 'line',
  data: { datasets: datasets },
  options: {
    responsive: false,
    animation: false,
    devicePixelRatio: 1,
    layout: { padding: 0, autoPadding: false },
    plugins: { legend: { display: false }, tooltip: { enabled: false }, title: { display: false } },
    scales: {
      x: { type: 'linear', min: -0.4375, max: 239.5625, display: false, offset: false },
      y: { type: 'linear', min: 151.746, max: 159.846, display: false }
    }
  },
  plugins: [overlay]
});
</script>
</body>
</html>
